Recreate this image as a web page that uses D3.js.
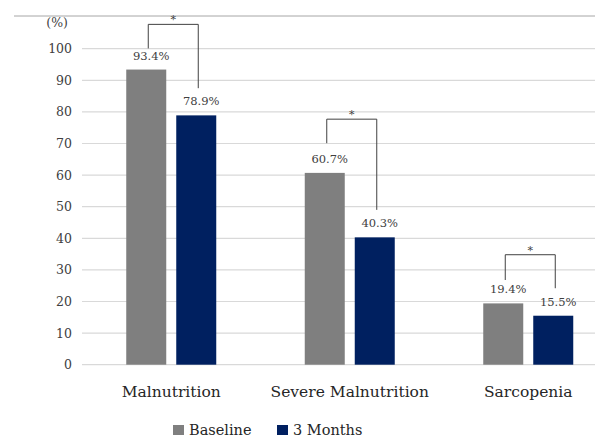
<!DOCTYPE html>
<html>
<head>
<meta charset="utf-8">
<script src="https://cdn.jsdelivr.net/npm/d3@7"></script>
<style>
  body { margin: 0; background: #fff; }
  svg { display: block; font-family: "DejaVu Serif", serif; }
</style>
</head>
<body>
<svg id="chart" width="595" height="437"></svg>
<script>
const categories = ["Malnutrition", "Severe Malnutrition", "Sarcopenia"];
const seriesNames = ["Baseline", "3 Months"];
const baseline = [93.4, 60.7, 19.4];
const months3 = [78.9, 40.3, 15.5];
const yTicks = [0, 10, 20, 30, 40, 50, 60, 70, 80, 90, 100];
// significance brackets, in % units: top, left leg end, right leg end
const bracketTop = [107.7, 77.7, 34.8];
const bracketLeft = [100.1, 70.1, 26.8];
const bracketRight = [87.5, 49.0, 24.2];
const colors = ["#7f7f7f", "#002060"];

const svg = d3.select("#chart");
const width = 595;

const x0 = d3.scaleBand().domain(categories).range([82, 617.5]).padding(0);
const x1 = d3.scaleBand().domain(seriesNames)
  .range([x0.bandwidth() / 2 - 45, x0.bandwidth() / 2 + 45])
  .paddingInner(0.2).paddingOuter(0);
const y = d3.scaleLinear().domain([0, 100]).range([364.7, 48.7]);

// top border fragment
svg.append("line")
  .attr("x1", 14).attr("x2", width).attr("y1", 16).attr("y2", 16)
  .attr("stroke", "#a6a6a6").attr("stroke-width", 1);

// gridlines
svg.append("g")
  .selectAll("line")
  .data(yTicks)
  .join("line")
  .attr("x1", 82).attr("x2", width)
  .attr("y1", d => y(d)).attr("y2", d => y(d))
  .attr("stroke", "#d9d9d9").attr("stroke-width", 1.2);

// y axis labels
const yAxis = svg.append("g")
  .attr("transform", "translate(72,0)")
  .call(d3.axisLeft(y).tickValues(yTicks).tickSize(0).tickPadding(0));
yAxis.select(".domain").remove();
yAxis.selectAll("text")
  .attr("font-family", "DejaVu Serif")
  .attr("font-size", 12.5)
  .attr("fill", "#404040");

svg.append("text")
  .attr("x", 68).attr("y", 27)
  .attr("text-anchor", "end")
  .attr("font-size", 12.5)
  .attr("fill", "#404040")
  .text("(%)");

// bars
const rows = categories.map((c, i) => ({ cat: c, vals: [baseline[i], months3[i]] }));
const groups = svg.append("g")
  .selectAll("g")
  .data(rows)
  .join("g")
  .attr("transform", d => `translate(${x0(d.cat)},0)`);

groups.selectAll("rect")
  .data(d => d.vals.map((v, j) => ({ s: seriesNames[j], v: v, j: j })))
  .join("rect")
  .attr("x", d => x1(d.s))
  .attr("y", d => y(d.v))
  .attr("width", x1.bandwidth())
  .attr("height", d => y(0) - y(d.v))
  .attr("fill", d => colors[d.j]);

groups.selectAll("text.val")
  .data(d => d.vals.map((v, j) => ({ s: seriesNames[j], v: v })))
  .join("text")
  .attr("class", "val")
  .attr("x", d => x1(d.s) + x1.bandwidth() / 2 + 5)
  .attr("y", d => y(d.v) - 10)
  .attr("text-anchor", "middle")
  .attr("font-size", 11.5)
  .attr("fill", "#404040")
  .text(d => d.v.toFixed(1) + "%");

// brackets
groups.each(function(d, i) {
  const g = d3.select(this);
  const xl = x1(seriesNames[0]) + x1.bandwidth() / 2 + 2;
  const xr = x1(seriesNames[1]) + x1.bandwidth() / 2 + 2;
  g.append("path")
    .attr("d", `M${xl},${y(bracketLeft[i])}V${y(bracketTop[i])}H${xr}V${y(bracketRight[i])}`)
    .attr("fill", "none")
    .attr("stroke", "#404040")
    .attr("stroke-width", 1);
  g.append("text")
    .attr("x", (xl + xr) / 2)
    .attr("y", y(bracketTop[i]) - 1)
    .attr("text-anchor", "middle")
    .attr("font-size", 11)
    .attr("fill", "#404040")
    .text("*");
});

// category labels
svg.append("g")
  .selectAll("text")
  .data(categories)
  .join("text")
  .attr("x", d => x0(d) + x0.bandwidth() / 2)
  .attr("y", 397)
  .attr("text-anchor", "middle")
  .attr("font-size", 15.5)
  .attr("fill", "#262626")
  .text(d => d);

// legend
const legendX = [173, 277];
const legend = svg.append("g")
  .selectAll("g")
  .data(seriesNames)
  .join("g")
  .attr("transform", (d, i) => `translate(${legendX[i]},0)`);
legend.append("rect")
  .attr("x", 0).attr("y", 425)
  .attr("width", 11).attr("height", 10)
  .attr("fill", (d, i) => colors[i]);
legend.append("text")
  .attr("x", 16).attr("y", 435)
  .attr("font-size", 14.5)
  .attr("fill", "#262626")
  .text(d => d);
</script>
</body>
</html>
